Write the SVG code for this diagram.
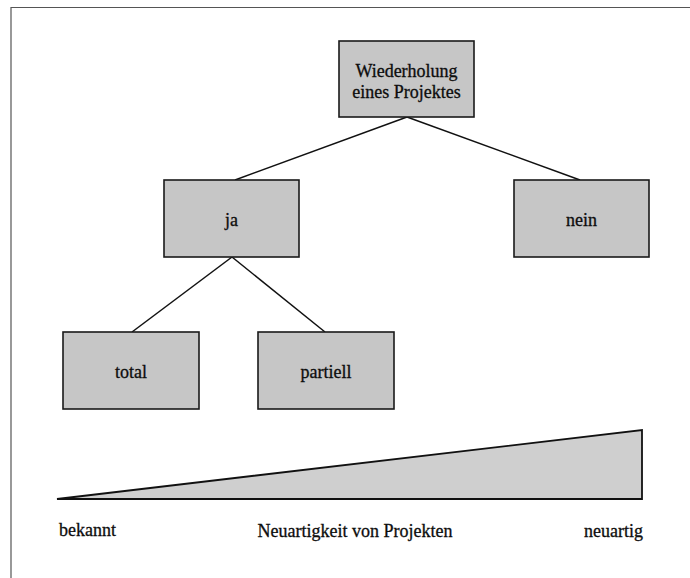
<svg xmlns="http://www.w3.org/2000/svg" width="690" height="578" viewBox="0 0 690 578">
  <style>
    .box { fill: #c6c6c6; stroke: #1a1a1a; stroke-width: 1.6; }
    .edge { fill: none; stroke: #111; stroke-width: 1.5; }
    text { font-family: 'Liberation Serif', 'Times New Roman', Times, serif; font-size: 18px; fill: #0d0d0d; stroke: #0d0d0d; stroke-width: 0.3; }
    .lbl { text-anchor: middle; }
  </style>
  <rect width="690" height="578" fill="#ffffff"/>
  <!-- outer frame (only the top and left edges fall inside the page) -->
  <path d="M11 580 V7.5 H692" fill="none" stroke="#555" stroke-width="1.2"/>

  <!-- connectors -->
  <g id="connectors">
    <path class="edge" d="M407 117 L235 180"/>
    <path class="edge" d="M407 117 L580 180"/>
    <path class="edge" d="M232 257 L132 332"/>
    <path class="edge" d="M232 257 L325 332"/>
  </g>

  <g id="node-wiederholung">
    <rect class="box" x="339" y="41" width="135" height="76"/>
    <text class="lbl" x="406.5" y="77">Wiederholung</text>
    <text class="lbl" x="406.5" y="98">eines Projektes</text>
  </g>
  <g id="node-ja">
    <rect class="box" x="164" y="180" width="135" height="77"/>
    <text class="lbl" x="231.5" y="226">ja</text>
  </g>
  <g id="node-nein">
    <rect class="box" x="514" y="180" width="135" height="77"/>
    <text class="lbl" x="581.5" y="226">nein</text>
  </g>
  <g id="node-total">
    <rect class="box" x="63" y="332" width="136" height="77"/>
    <text class="lbl" x="131" y="378">total</text>
  </g>
  <g id="node-partiell">
    <rect class="box" x="258" y="332" width="136" height="77"/>
    <text class="lbl" x="326" y="378">partiell</text>
  </g>

  <!-- novelty scale wedge -->
  <g id="scale">
    <polygon points="57,499 642,430 642,499" fill="#cfcfcf" stroke="#111" stroke-width="1.8" stroke-linejoin="miter"/>
    <text x="59" y="536">bekannt</text>
    <text x="355" y="537" text-anchor="middle">Neuartigkeit von Projekten</text>
    <text x="643" y="537" text-anchor="end">neuartig</text>
  </g>
</svg>
